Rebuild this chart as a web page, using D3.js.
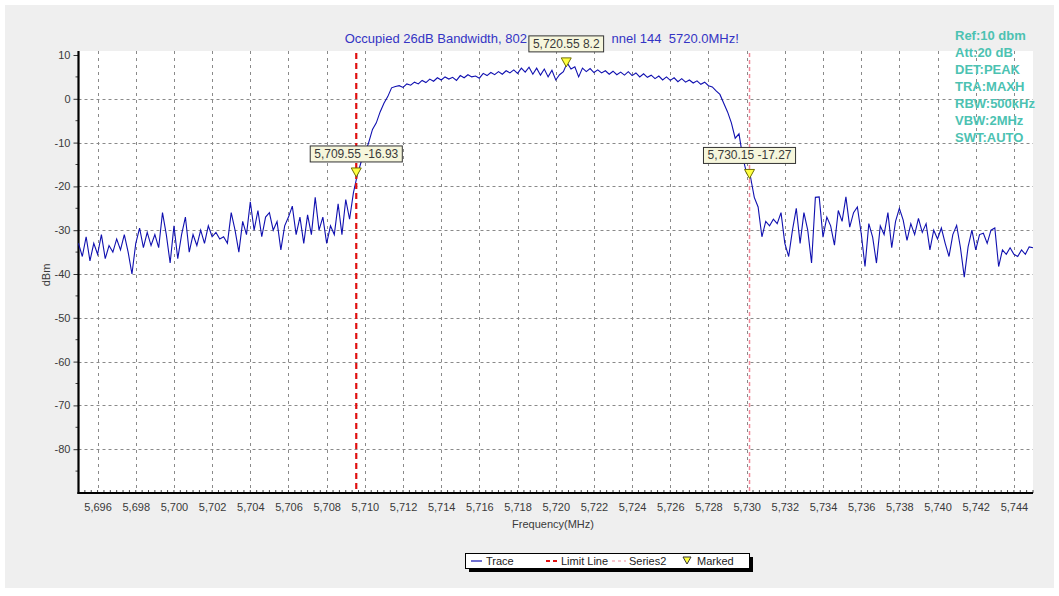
<!DOCTYPE html>
<html>
<head>
<meta charset="utf-8">
<script src="https://cdn.jsdelivr.net/npm/d3@7"></script>
<style>
  html, body { margin: 0; padding: 0; background: #ffffff; }
  svg { display: block; font-family: "Liberation Sans", Arial, sans-serif; }
</style>
</head>
<body>
<svg id="chart" width="1059" height="596"></svg>
<script>
// ---- data ----
const freqStart = 5695.0;   // MHz, first trace sample
const freqStep = 0.2;       // MHz between trace samples
const traceValues = [
  -33, -36, -31.5, -37, -33, -35.5, -31, -36.5, -33.5, -35,
  -32, -34.5, -31, -35, -40, -33, -29.5, -34, -30.5, -33.5,
  -31, -34, -26, -31, -37.5, -29, -36.5, -31, -27, -35,
  -31, -33.5, -30, -33, -29, -31.5, -30.5, -32, -31.5, -33,
  -26, -30, -35, -28, -31, -23.5, -30, -25.5, -31.5, -27,
  -26, -30, -28, -34.5, -29, -27, -24.5, -31, -27, -33,
  -26.5, -31, -22.5, -30, -27, -33, -29, -31, -24, -31,
  -23, -27.5, -21.5, -17.5, -14.5, -12.5, -10, -7, -5.5, -3,
  -1, 0.5, 2.5, 2.8, 3, 2.6, 3.4, 3.1, 3.8, 3.4,
  4.2, 3.7, 4.5, 4.0, 4.8, 4.3, 5.0, 4.5, 4.9, 4.2,
  5.3, 4.8, 5.5, 5.0, 5.2, 4.7, 5.8, 5.3, 6.0, 5.5,
  6.2, 5.6, 6.4, 5.9, 6.6, 5.8, 7.0, 6.1, 7.2, 5.6,
  7.0, 5.4, 6.8, 5.0, 6.5, 4.3, 5.5, 6.2, 8.2, 6.8,
  7.3, 5.0, 7.0, 6.2, 6.9, 6.0, 6.6, 5.9, 6.4, 5.6,
  6.3, 5.5, 6.1, 5.4, 6.2, 5.3, 5.9, 5.0, 5.7, 4.9,
  5.4, 4.6, 5.2, 4.3, 5.0, 4.2, 4.8, 3.9, 4.6, 3.8,
  4.3, 3.6, 4.1, 3.3, 3.8, 3.0, 2.7, 1.8, 1.0, -1.0,
  -3.0, -5.5, -9.0, -8.0, -13.5, -17.0, -17.8, -22.5, -24.7, -31.5,
  -28, -29, -27.5, -28.5, -26, -33, -36, -30, -25, -33,
  -26, -30, -37.5, -22.5, -22.4, -31.6, -27, -29, -33.4, -25.5,
  -28, -22.4, -29.3, -26, -24.7, -30.7, -38.3, -28.5, -31.6, -37.5,
  -29, -31, -26, -34, -28, -25, -27.7, -32.3, -28.5, -31,
  -27.3, -30.5, -28.5, -34.5, -30, -32, -29.5, -33, -36, -31,
  -28.9, -34, -40.7, -33.8, -30, -34.5, -31, -30.7, -33, -30,
  -29.5, -38.3, -34.5, -35.5, -34, -35.5, -36, -34.5, -35.5, -33.8,
  -34
];
const markerFreqs = [5709.55, 5720.55, 5730.15];
const markerLevels = [-16.93, 8.2, -17.27];
const limitLineFreq = 5709.55;
const series2Freq = 5730.15;
const xDomain = [5695, 5745];
const yDomain = [-90, 10];
const xTickValues = [5696,5698,5700,5702,5704,5706,5708,5710,5712,5714,5716,5718,5720,5722,5724,5726,5728,5730,5732,5734,5736,5738,5740,5742,5744];
const yTickValues = [10, 0, -10, -20, -30, -40, -50, -60, -70, -80];
// title as visible around the centre marker label, which hides its middle part
const titleLeft = "Occupied 26dB Bandwidth, 802";
const titleRight = "nnel 144  5720.0MHz!";
const infoLines = ["Ref:10 dbm", "Att:20 dB", "DET:PEAK", "TRA:MAXH", "RBW:500kHz", "VBW:2MHz", "SWT:AUTO"];
const legendItems = ["Trace", "Limit Line", "Series2", "Marked"];

// ---- layout ----
const svg = d3.select("#chart");
const L = 78.5, R = 1033, T = 51, B = 493;
const x = d3.scaleLinear().domain(xDomain).range([L, R]);
const y = d3.scaleLinear().domain(yDomain).range([B, 55]);

// background panel
svg.append("rect").attr("x", 0).attr("y", 0).attr("width", 1059).attr("height", 596).attr("fill", "#ffffff");
svg.append("rect").attr("x", 5).attr("y", 5).attr("width", 1049).attr("height", 583).attr("fill", "#efefef");
svg.append("rect").attr("x", L).attr("y", T).attr("width", R - L).attr("height", B - T).attr("fill", "#ffffff");

// grid
const grid = svg.append("g");
grid.selectAll("line.gx").data(xTickValues).enter().append("line")
  .attr("x1", d => Math.round(x(d)) + 0.5).attr("x2", d => Math.round(x(d)) + 0.5)
  .attr("y1", T).attr("y2", B)
  .attr("stroke", "#8a8a8a").attr("stroke-width", 1).attr("stroke-dasharray", "3,4");
grid.selectAll("line.gy").data(yTickValues.filter(v => v < 10)).enter().append("line")
  .attr("x1", L).attr("x2", R)
  .attr("y1", d => Math.round(y(d)) + 0.5).attr("y2", d => Math.round(y(d)) + 0.5)
  .attr("stroke", "#8a8a8a").attr("stroke-width", 1).attr("stroke-dasharray", "3,3");

// axes
const xAxis = d3.axisBottom(x).tickValues(xTickValues).tickSize(0).tickPadding(10)
  .tickFormat(d => d3.format(",")(d));
const gx = svg.append("g").attr("transform", `translate(0,${B})`).call(xAxis);
gx.select(".domain").remove();
gx.selectAll("text").attr("font-size", 11).attr("fill", "#3a3a3a").attr("font-family", "Liberation Sans, Arial, sans-serif");

const yAxis = d3.axisLeft(y).tickValues(yTickValues).tickSize(5).tickPadding(3).tickFormat(d => String(d));
const gy = svg.append("g").attr("transform", `translate(${L},0)`).call(yAxis);
gy.select(".domain").remove();
gy.selectAll("line").attr("stroke", "#333");
gy.selectAll("text").attr("font-size", 11).attr("fill", "#3a3a3a").attr("font-family", "Liberation Sans, Arial, sans-serif");

// minor ticks
const xMinor = d3.range(0, 151).map(i => xDomain[0] + i / 3);
svg.append("g").selectAll("line").data(xMinor).enter().append("line")
  .attr("x1", d => x(d)).attr("x2", d => x(d))
  .attr("y1", B).attr("y2", d => B - 3)
  .attr("stroke", "#444").attr("stroke-width", 1);
const yMinor = d3.range(-85, 10, 10);
svg.append("g").selectAll("line").data(yMinor).enter().append("line")
  .attr("x1", L - 3).attr("x2", L)
  .attr("y1", d => y(d)).attr("y2", d => y(d))
  .attr("stroke", "#444").attr("stroke-width", 1);

// axis lines
svg.append("line").attr("x1", L).attr("x2", L).attr("y1", T).attr("y2", B + 1)
  .attr("stroke", "#000").attr("stroke-width", 2.2);
svg.append("line").attr("x1", L - 1).attr("x2", R).attr("y1", B).attr("y2", B)
  .attr("stroke", "#000").attr("stroke-width", 2.2);

// trace
const traceData = traceValues.map((v, i) => ({ f: freqStart + i * freqStep, v }));
const line = d3.line().x(d => x(d.f)).y(d => y(d.v));
svg.append("path").datum(traceData).attr("d", line)
  .attr("fill", "none").attr("stroke", "#1010b0").attr("stroke-width", 1.1);

// limit line and series2
svg.append("line").attr("x1", x(limitLineFreq)).attr("x2", x(limitLineFreq))
  .attr("y1", T + 2).attr("y2", B)
  .attr("stroke", "#e01010").attr("stroke-width", 2.2).attr("stroke-dasharray", "6,4");
svg.append("line").attr("x1", x(series2Freq)).attr("x2", x(series2Freq))
  .attr("y1", T + 2).attr("y2", B)
  .attr("stroke", "#f08a9a").attr("stroke-width", 1.5).attr("stroke-dasharray", "4,3");

// markers
const markers = markerFreqs.map((f, i) => ({ f, v: markerLevels[i] }));
const fmtF = d3.format(",.2f");
const mg = svg.append("g");
const boxes = [];
markers.forEach(m => {
  const px = x(m.f), py = y(m.v);
  const label = fmtF(m.f) + " " + m.v;
  const t = mg.append("text").attr("font-size", 12).attr("fill", "#3a3a3a")
    .attr("text-anchor", "middle").attr("x", px).attr("y", py - 15).text(label);
  const w = t.node().getComputedTextLength() + 8;
  boxes.push({ x0: px - w / 2, x1: px + w / 2 });
  mg.insert("rect", "text").attr("x", px - w / 2).attr("y", py - 27).attr("width", w).attr("height", 16)
    .attr("fill", "#f6f6dc").attr("stroke", "#333").attr("stroke-width", 1);
  mg.append("path")
    .attr("d", `M${px - 5},${py - 5} L${px + 5},${py - 5} L${px},${py + 4} Z`)
    .attr("fill", "#ffff40").attr("stroke", "#707000").attr("stroke-width", 1);
});

// title, split around the centre marker label box
svg.append("text").attr("x", boxes[1].x0 - 2).attr("y", 43).attr("text-anchor", "end")
  .attr("font-size", 13).attr("fill", "#3434c4").text(titleLeft);
svg.append("text").attr("x", boxes[1].x1 + 8).attr("y", 43).attr("text-anchor", "start")
  .style("white-space", "pre")
  .attr("font-size", 13).attr("fill", "#3434c4").text(titleRight);

// info text
svg.append("g").selectAll("text").data(infoLines).enter().append("text")
  .attr("x", 955).attr("y", (d, i) => 40 + i * 17)
  .attr("font-size", 13).attr("font-weight", "bold").attr("fill", "#4cc2b2").text(d => d);

// axis titles
svg.append("text").attr("x", 553).attr("y", 528).attr("text-anchor", "middle")
  .attr("font-size", 11).attr("fill", "#3a3a3a").text("Frequency(MHz)");
svg.append("text").attr("transform", "translate(50,275) rotate(-90)").attr("text-anchor", "middle")
  .attr("font-size", 11).attr("fill", "#3a3a3a").text("dBm");

// legend
const lg = svg.append("g");
lg.append("rect").attr("x", 469).attr("y", 557).attr("width", 284).attr("height", 15).attr("fill", "#000");
lg.append("rect").attr("x", 465.5).attr("y", 553.5).attr("width", 284).attr("height", 15)
  .attr("fill", "#ffffff").attr("stroke", "#000").attr("stroke-width", 1);
const ly = 561;
lg.append("line").attr("x1", 471).attr("x2", 482).attr("y1", ly).attr("y2", ly).attr("stroke", "#1010b0").attr("stroke-width", 1.2);
lg.append("text").attr("x", 486).attr("y", ly + 4).attr("font-size", 11).attr("fill", "#222").text(legendItems[0]);
lg.append("line").attr("x1", 546).attr("x2", 558).attr("y1", ly).attr("y2", ly).attr("stroke", "#e01010").attr("stroke-width", 2).attr("stroke-dasharray", "4,3");
lg.append("text").attr("x", 561).attr("y", ly + 4).attr("font-size", 11).attr("fill", "#222").text(legendItems[1]);
lg.append("line").attr("x1", 612).attr("x2", 626).attr("y1", ly).attr("y2", ly).attr("stroke", "#f08a9a").attr("stroke-width", 1.2).attr("stroke-dasharray", "3,3");
lg.append("text").attr("x", 629).attr("y", ly + 4).attr("font-size", 11).attr("fill", "#222").text(legendItems[2]);
lg.append("path").attr("d", `M${683},${ly - 4} L${691},${ly - 4} L${687},${ly + 3} Z`)
  .attr("fill", "#ffff40").attr("stroke", "#333").attr("stroke-width", 1);
lg.append("text").attr("x", 697).attr("y", ly + 4).attr("font-size", 11).attr("fill", "#222").text(legendItems[3]);
</script>
</body>
</html>
